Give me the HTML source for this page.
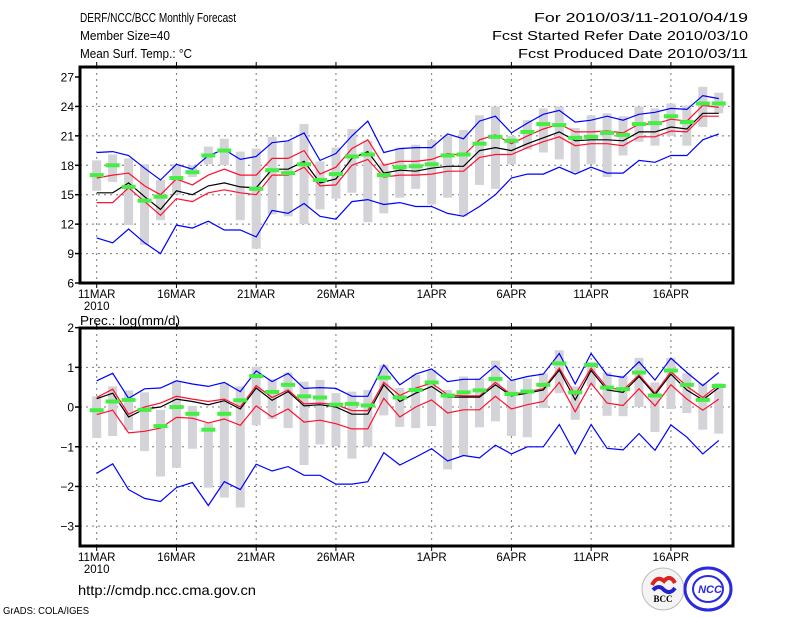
<!DOCTYPE html>
<html><head><meta charset="utf-8"><style>
html,body{margin:0;padding:0;background:#fff;}
svg{display:block;font-family:"Liberation Sans",sans-serif;}
</style></head><body>
<svg id="chart" width="800" height="618" viewBox="0 0 800 618" xmlns="http://www.w3.org/2000/svg">
<g font-size="12.5" fill="#000">
<text x="80" y="22" textLength="156" lengthAdjust="spacingAndGlyphs">DERF/NCC/BCC Monthly Forecast</text>
<text x="80" y="40" textLength="90" lengthAdjust="spacingAndGlyphs">Member Size=40</text>
<text x="80" y="58" textLength="112" lengthAdjust="spacingAndGlyphs">Mean Surf. Temp.: °C</text>
<text x="748" y="22" text-anchor="end" textLength="214" lengthAdjust="spacingAndGlyphs">For 2010/03/11-2010/04/19</text>
<text x="748" y="40" text-anchor="end" textLength="256" lengthAdjust="spacingAndGlyphs">Fcst Started Refer Date 2010/03/10</text>
<text x="748" y="58" text-anchor="end" textLength="230" lengthAdjust="spacingAndGlyphs">Fcst Produced Date 2010/03/11</text>
<text x="80" y="325" textLength="100" lengthAdjust="spacingAndGlyphs">Prec.: log(mm/d)</text>
<text x="78" y="595" font-size="14" textLength="178" lengthAdjust="spacingAndGlyphs">http://cmdp.ncc.cma.gov.cn</text>
<text x="3" y="614" font-size="10" textLength="86" lengthAdjust="spacingAndGlyphs">GrADS: COLA/IGES</text>
</g>
<g>
<circle cx="663" cy="589" r="21" fill="#f4f4f4" stroke="#bbb"/>
<path d="M652 585 q5 -10 12 -4 q6 -7 11 2" stroke="#d22" stroke-width="4" fill="none"/>
<path d="M653 590 q6 -6 11 0 q6 5 11 -2" stroke="#22c" stroke-width="4" fill="none"/>
<text x="663" y="602" font-size="9" font-weight="bold" text-anchor="middle" font-family="Liberation Serif,serif">BCC</text>
</g>
<g>
<ellipse cx="708" cy="589" rx="23" ry="21" fill="#fff" stroke="#2a2ae0" stroke-width="3"/>
<ellipse cx="708" cy="589" rx="15" ry="13" fill="none" stroke="#2a2ae0" stroke-width="2"/>
<text x="710" y="593" font-size="11" font-weight="bold" font-style="italic" fill="#2a2ae0" text-anchor="middle">NCC</text>
</g>
<g id="top"></g>
<g id="bot"></g>
</svg>
<script>
const dayLabels=["11MAR","16MAR","21MAR","26MAR","1APR","6APR","11APR","16APR"];
const dayLabelIdx=[0,5,10,15,21,26,31,36];
// Temperature
const tBlueHi=[19.3,19.4,19.0,17.7,16.5,18.1,17.6,19.0,19.6,18.6,18.9,20.3,20.5,21.3,18.5,19.2,21.0,22.5,19.3,19.7,19.8,19.8,21.2,20.7,22.5,23.0,21.3,22.3,23.2,23.6,22.4,22.6,23.0,22.6,23.2,23.4,23.8,23.7,25.1,24.8];
const tRedHi=[16.7,17.0,17.2,15.9,15.0,16.6,16.0,17.0,17.6,17.0,17.0,18.7,18.7,19.5,17.1,17.8,19.7,20.6,18.0,18.4,18.4,18.6,19.2,19.0,20.6,21.1,20.2,21.0,21.7,22.2,21.4,21.4,21.5,21.3,22.2,22.2,22.7,22.5,24.1,23.9];
const tMean=[15.2,15.2,16.2,14.8,13.5,15.4,15.0,15.9,16.2,15.8,15.7,17.6,17.6,18.4,16.2,16.6,18.7,19.4,17.2,17.5,17.4,17.7,17.9,17.9,19.5,19.8,19.5,20.2,20.8,21.4,20.5,20.6,20.6,20.5,21.4,21.4,21.9,21.7,23.3,23.3];
const tRedLo=[14.2,14.2,15.7,14.3,12.9,14.6,14.3,15.2,15.5,15.2,15.0,17.0,17.0,17.8,15.9,16.0,18.0,18.6,16.8,17.0,17.0,17.1,17.4,17.4,18.8,19.1,19.1,19.8,20.4,20.9,20.0,20.2,20.2,20.0,20.9,20.9,21.5,21.4,23.0,23.0];
const tBlueLo=[10.6,10.1,11.5,10.1,9.0,11.9,11.6,12.3,11.4,11.4,10.7,13.4,13.1,14.1,12.8,12.5,14.3,14.5,14.0,14.2,13.8,13.8,13.1,12.8,13.8,15.0,16.7,17.1,17.1,17.8,17.1,17.8,17.2,17.2,18.5,18.3,19.0,19.0,20.6,21.2];
const tObs=[17.0,18.0,15.8,14.4,14.8,16.7,17.3,19.0,19.5,null,15.6,17.5,17.2,18.1,16.5,17.1,18.9,19.1,17.0,17.8,17.9,18.1,19.0,19.1,20.2,20.9,20.5,21.4,22.2,22.1,20.8,20.9,21.3,21.1,22.2,22.3,23.0,22.4,24.3,24.3];
const tMin=[15.4,16.3,11.9,9.9,12.4,15.0,16.8,18.1,18.0,12.4,9.5,13.0,12.8,12.0,13.5,14.6,15.2,12.2,13.1,14.7,15.6,14.0,14.7,12.8,16.0,15.6,18.1,19.6,19.3,18.6,17.3,18.1,16.8,19.0,20.4,20.0,21.0,20.0,21.9,23.3];
const tMax=[18.5,19.1,18.7,18.1,16.5,18.1,18.0,19.9,20.7,19.4,19.7,20.9,20.5,22.2,18.4,19.8,21.7,20.5,18.2,19.8,20.1,20.6,21.0,21.6,23.1,24.0,21.0,22.6,23.8,24.0,21.8,23.1,23.3,23.0,24.0,23.8,24.3,24.1,26.0,25.4];
const tTicks=[6,9,12,15,18,21,24,27];
// Precipitation
const pBlueHi=[0.66,0.85,0.22,0.46,0.48,0.66,0.58,0.52,0.62,0.39,0.91,0.64,0.85,0.47,0.49,0.47,0.27,0.27,1.06,0.56,0.83,0.96,0.64,0.7,0.7,1.04,0.67,0.77,0.83,1.35,0.58,1.35,0.81,0.75,1.14,0.68,1.23,0.87,0.54,0.87];
const pRedHi=[0.24,0.45,-0.18,0,0.1,0.27,0.2,0.14,0.2,0,0.54,0.24,0.43,0.08,0.1,0.06,-0.09,-0.09,0.62,0.29,0.48,0.6,0.31,0.28,0.28,0.62,0.31,0.39,0.46,0.98,0.31,0.98,0.49,0.43,0.81,0.35,0.89,0.52,0.24,0.56];
const pMean=[0.21,0.35,-0.25,-0.05,0,0.2,0.14,0.06,0.16,-0.05,0.48,0.17,0.39,0.03,0.06,0,-0.18,-0.18,0.56,0.14,0.35,0.52,0.25,0.25,0.25,0.56,0.28,0.35,0.43,0.93,0.18,0.92,0.43,0.37,0.77,0.31,0.83,0.43,0.18,0.49];
const pRedLo=[-0.19,-0.08,-0.65,-0.61,-0.53,-0.26,-0.28,-0.4,-0.3,-0.46,0.03,-0.25,-0.05,-0.38,-0.33,-0.42,-0.55,-0.55,0.22,-0.25,0,0.18,-0.15,-0.07,-0.07,0.27,-0.05,0.06,0.14,0.62,-0.12,0.6,0.1,0.04,0.46,0.03,0.56,0.2,-0.08,0.2];
const pBlueLo=[-1.67,-1.43,-2.08,-2.3,-2.38,-2.03,-1.9,-2.48,-1.88,-2.08,-1.44,-1.61,-1.5,-1.72,-1.72,-1.94,-1.94,-1.88,-1.15,-1.46,-1.26,-1.05,-1.36,-1.22,-1.28,-0.96,-1.18,-1.0,-1.0,-0.44,-1.18,-0.44,-1.04,-1.08,-0.67,-1.09,-0.45,-0.76,-1.18,-0.84];
const pObs=[-0.08,0.14,0.18,-0.07,-0.48,0,-0.17,-0.57,-0.17,0.17,0.78,0.38,0.56,0.27,0.24,0.06,0.08,0.04,0.74,0.24,0.43,0.62,0.29,0.37,0.42,0.71,0.33,0.39,0.56,1.1,0.37,1.06,0.49,0.45,0.87,0.29,0.92,0.56,0.18,0.53];
const pMin=[-0.78,-0.73,-0.58,-1.11,-1.75,-1.53,-1.05,-2.03,-2.28,-2.53,-0.46,-0.3,-0.53,-1.46,-0.94,-0.98,-1.3,-1.0,-0.21,-0.5,-0.53,-0.48,-1.57,-1.22,-0.51,-0.36,-0.73,-0.76,-0.02,0.35,-0.32,0.52,-0.22,-0.23,0,-0.63,-0.05,-0.15,-0.57,-0.67];
const pMax=[0.27,0.52,0.42,0.37,-0.07,0.64,0.03,-0.4,0.6,0.52,1.02,0.7,0.87,0.64,0.68,0.35,0.39,0.43,1.06,0.48,0.81,0.93,0.43,0.77,0.72,1.17,0.68,0.72,0.85,1.43,0.52,1.14,0.87,0.79,1.24,0.62,1.24,0.85,0.6,0.6];
const pTicks=[-3,-2,-1,0,1,2];

const NS="http://www.w3.org/2000/svg";
function mk(parent,tag,attrs){const e=document.createElementNS(NS,tag);for(const k in attrs)e.setAttribute(k,attrs[k]);parent.appendChild(e);return e;}
const X0=96.7,DX=15.95;
function xs(i){return X0+i*DX;}

function drawPanel(gid,o){
  const g=document.getElementById(gid);
  const ys=v=>o.y0px-(v-o.vmin)*o.ppu;
  // grid
  o.ticks.forEach(t=>{
    const y=ys(t);
    if(t>o.vmin&&t<o.vmax){const l=mk(g,'line',{x1:o.L,x2:o.R,y1:y,y2:y,stroke:'#777','stroke-dasharray':'2,4','stroke-width':1});
      
      }
    const tk=mk(g,'line',{x1:o.L-5,x2:o.L,y1:y,y2:y,stroke:'#000','stroke-width':1.5});
    
    
    const tx=mk(g,'text',{x:o.L-6,y:y+4.5,'text-anchor':'end','font-size':12});
    tx.textContent=String(t).replace('-','\u2212');
    
    
  });
  dayLabelIdx.forEach((d,k)=>{
    const x=xs(d);
    const l=mk(g,'line',{x1:x,x2:x,y1:o.T,y2:o.B,stroke:'#777','stroke-dasharray':'2,4','stroke-width':1});
    
    
    const tk=mk(g,'line',{x1:x,x2:x,y1:o.B,y2:o.B+5,stroke:'#000','stroke-width':1});
    
    
    const tk2=mk(g,'line',{x1:x,x2:x,y1:o.T-5,y2:o.T,stroke:'#000','stroke-width':1});
    
    
    const tx=mk(g,'text',{x:x,y:o.B+15,'text-anchor':'middle','font-size':11.5});
    tx.textContent=dayLabels[k];
    
    
  });
  const yr=mk(g,'text',{x:xs(0),y:o.B+27,'text-anchor':'middle','font-size':11.5});
  yr.textContent='2010';
  
  
  // gray range bars
  o.mn.forEach((v,i)=>{
    const a=ys(o.mx[i]),b=ys(v);
    const r=mk(g,'rect',{x:xs(i)-4.5,y:a,width:9,height:b-a,fill:'#d3d3d8'});
    
    
  });
  // lines
  const series=[[o.bl,'#0000ff','blue-lower-line'],[o.bh,'#0000ff','blue-upper-line'],[o.rl,'#ff1030','red-lower-line'],[o.rh,'#ff1030','red-upper-line'],[o.m,'#000','ensemble-mean-line']];
  series.forEach(s=>{
    const p=mk(g,'polyline',{points:s[0].map((v,i)=>xs(i).toFixed(1)+','+ys(v).toFixed(1)).join(' '),fill:'none',stroke:s[1],'stroke-width':1.2});
    
    
  });
  // obs
  o.obs.forEach((v,i)=>{
    if(v===null)return;
    const r=mk(g,'rect',{x:xs(i)-7,y:ys(v)-2,width:14,height:4,fill:'#44ee44'});
    
    
  });
  const fr=mk(g,'rect',{x:o.L,y:o.T,width:o.R-o.L,height:o.B-o.T,fill:'none',stroke:'#000','stroke-width':3});
  
  
}
drawPanel('top',{L:80,R:733,T:67,B:283,vmin:6,vmax:27,y0px:283,ppu:206/21,ticks:tTicks,
  bh:tBlueHi,rh:tRedHi,m:tMean,rl:tRedLo,bl:tBlueLo,obs:tObs,mn:tMin,mx:tMax});
drawPanel('bot',{L:80,R:733,T:328,B:546,vmin:-3.5,vmax:2,y0px:546,ppu:39.7,ticks:pTicks,
  bh:pBlueHi,rh:pRedHi,m:pMean,rl:pRedLo,bl:pBlueLo,obs:pObs,mn:pMin,mx:pMax});
</script>
</body></html>
